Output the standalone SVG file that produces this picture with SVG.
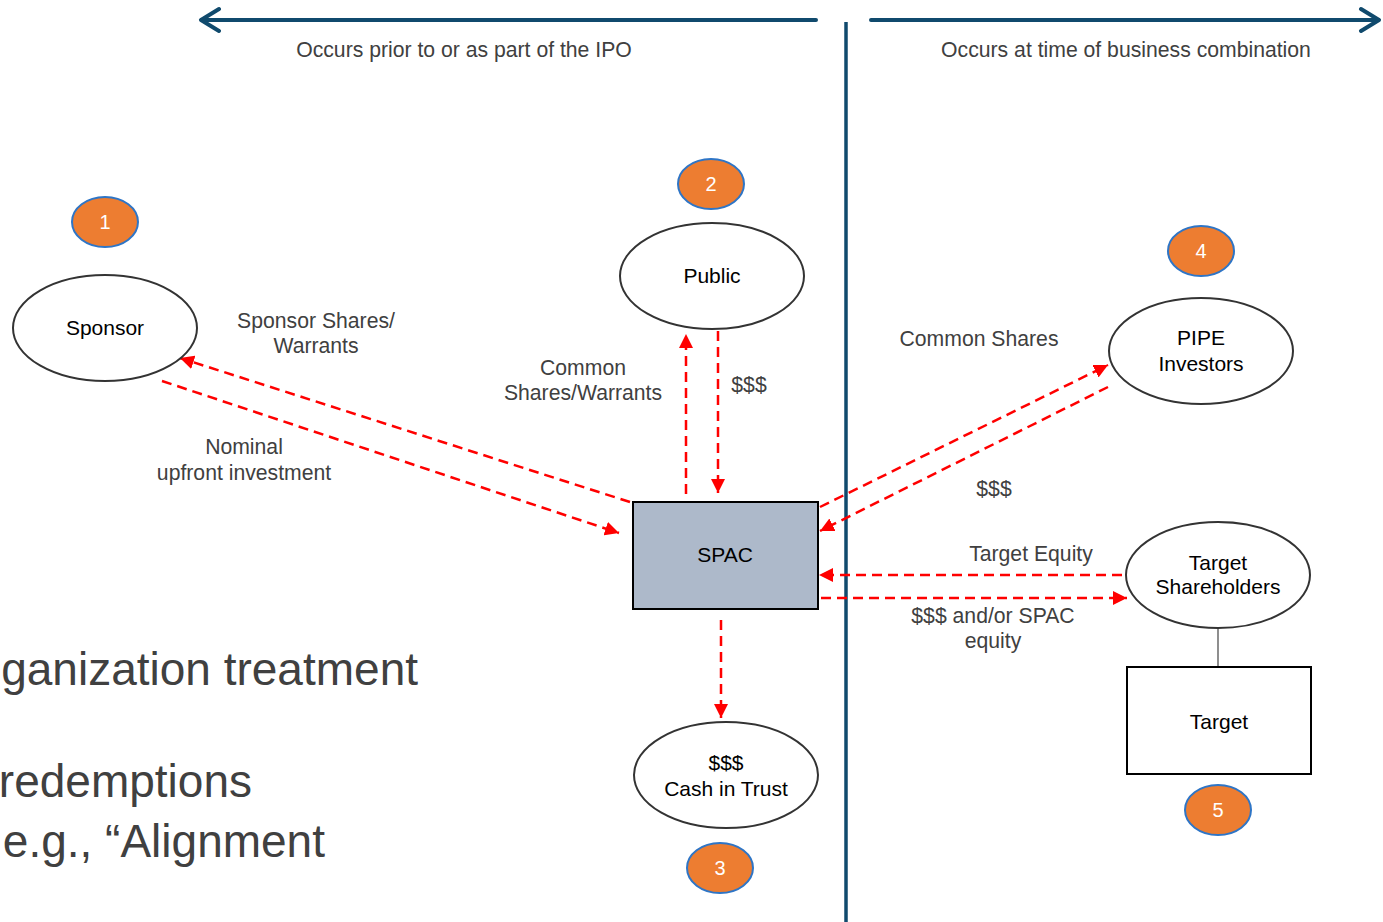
<svg xmlns="http://www.w3.org/2000/svg" width="1383" height="922" viewBox="0 0 1383 922">
  <style>
    text { font-family: "Liberation Sans", Arial, sans-serif; }
    .lbl { font-size: 21.2px; fill: #404040; text-anchor: middle; }
    .nodetxt { font-size: 21px; fill: #000; text-anchor: middle; }
    .badgetxt { font-size: 20px; fill: #fff; text-anchor: middle; }
    .bg { font-size: 46px; fill: #404040; text-anchor: end; }
    .node { fill: #fff; stroke: #333; stroke-width: 2; }
    .badge { fill: #ed7d31; stroke: #2e75c6; stroke-width: 2; }
    .flow { fill: none; stroke: #ff0000; stroke-width: 2.5; stroke-dasharray: 10 6; }
    .time { fill: none; stroke: #104a6d; stroke-width: 4; stroke-linecap: round; stroke-linejoin: round; }
  </style>
  <defs>
    <marker id="ah" viewBox="0 0 14 14" refX="14" refY="7" markerWidth="14" markerHeight="14" markerUnits="userSpaceOnUse" orient="auto">
      <path d="M0,0 L14,7 L0,14 Z" fill="#ff0000"/>
    </marker>
  </defs>

  <rect width="1383" height="922" fill="#fff"/>

  <!-- slide text behind the diagram -->
  <g id="background-text">
    <text class="bg" x="418" y="685">ganization treatment</text>
    <text class="bg" x="252" y="797">redemptions</text>
    <text class="bg" x="325" y="857">e.g., “Alignment</text>
  </g>

  <!-- timeline -->
  <g id="timeline">
    <path class="time" d="M816,20 L201,20 M219,9 L201,20 L219,31"/>
    <path class="time" d="M871,20 L1379,20 M1361,9 L1379,20 L1361,31"/>
    <line x1="846" y1="22" x2="846" y2="922" stroke="#104a6d" stroke-width="3.5"/>
    <text class="lbl" x="464" y="57">Occurs prior to or as part of the IPO</text>
    <text class="lbl" x="1126" y="57">Occurs at time of business combination</text>
  </g>

  <!-- flows -->
  <g id="connectors">
    <line class="flow" x1="630" y1="502" x2="180" y2="358" marker-end="url(#ah)"/>
    <line class="flow" x1="162" y1="381" x2="619" y2="533" marker-end="url(#ah)"/>
    <line class="flow" x1="686" y1="494" x2="686" y2="334" marker-end="url(#ah)"/>
    <line class="flow" x1="718" y1="331" x2="718" y2="493" marker-end="url(#ah)"/>
    <line class="flow" x1="820" y1="507" x2="1108" y2="365" marker-end="url(#ah)"/>
    <line class="flow" x1="1108" y1="387" x2="820" y2="531" marker-end="url(#ah)"/>
    <line class="flow" x1="1122" y1="575" x2="819" y2="575" marker-end="url(#ah)"/>
    <line class="flow" x1="821" y1="598" x2="1127" y2="598" marker-end="url(#ah)"/>
    <line class="flow" x1="721" y1="620" x2="721" y2="718" marker-end="url(#ah)"/>
    <line x1="1218" y1="628" x2="1218" y2="667" stroke="#444" stroke-width="1.2"/>

    <text class="lbl" x="316" y="328">Sponsor Shares/</text>
    <text class="lbl" x="316" y="353">Warrants</text>
    <text class="lbl" x="244" y="454">Nominal</text>
    <text class="lbl" x="244" y="480">upfront investment</text>
    <text class="lbl" x="583" y="375">Common</text>
    <text class="lbl" x="583" y="400">Shares/Warrants</text>
    <text class="lbl" x="749" y="392">$$$</text>
    <text class="lbl" x="979" y="346">Common Shares</text>
    <text class="lbl" x="994" y="496">$$$</text>
    <text class="lbl" x="1031" y="561">Target Equity</text>
    <text class="lbl" x="993" y="623">$$$ and/or SPAC</text>
    <text class="lbl" x="993" y="648">equity</text>
  </g>

  <g id="sponsor">
    <ellipse class="node" cx="105" cy="328" rx="92" ry="53"/>
    <text class="nodetxt" x="105" y="335">Sponsor</text>
  </g>
  <g id="public">
    <ellipse class="node" cx="712" cy="276" rx="92" ry="53"/>
    <text class="nodetxt" x="712" y="283">Public</text>
  </g>
  <g id="pipe-investors">
    <ellipse class="node" cx="1201" cy="351" rx="92" ry="53"/>
    <text class="nodetxt" x="1201" y="345">PIPE</text>
    <text class="nodetxt" x="1201" y="371">Investors</text>
  </g>
  <g id="spac">
    <rect x="633" y="502" width="185" height="107" fill="#adb9ca" stroke="#000" stroke-width="2"/>
    <text class="nodetxt" x="725" y="562">SPAC</text>
  </g>
  <g id="target-shareholders">
    <ellipse class="node" cx="1218" cy="575" rx="92" ry="53"/>
    <text class="nodetxt" x="1218" y="570">Target</text>
    <text class="nodetxt" x="1218" y="594">Shareholders</text>
  </g>
  <g id="target">
    <rect x="1127" y="667" width="184" height="107" fill="#fff" stroke="#000" stroke-width="2"/>
    <text class="nodetxt" x="1219" y="729">Target</text>
  </g>
  <g id="cash-in-trust">
    <ellipse class="node" cx="726" cy="775" rx="92" ry="53"/>
    <text class="nodetxt" x="726" y="770">$$$</text>
    <text class="nodetxt" x="726" y="796">Cash in Trust</text>
  </g>

  <g id="badge-1">
    <ellipse class="badge" cx="105" cy="222" rx="33" ry="25"/>
    <text class="badgetxt" x="105" y="229">1</text>
  </g>
  <g id="badge-2">
    <ellipse class="badge" cx="711" cy="184" rx="33" ry="25"/>
    <text class="badgetxt" x="711" y="191">2</text>
  </g>
  <g id="badge-3">
    <ellipse class="badge" cx="720" cy="868" rx="33" ry="25"/>
    <text class="badgetxt" x="720" y="875">3</text>
  </g>
  <g id="badge-4">
    <ellipse class="badge" cx="1201" cy="251" rx="33" ry="25"/>
    <text class="badgetxt" x="1201" y="258">4</text>
  </g>
  <g id="badge-5">
    <ellipse class="badge" cx="1218" cy="810" rx="33" ry="25"/>
    <text class="badgetxt" x="1218" y="817">5</text>
  </g>
</svg>
